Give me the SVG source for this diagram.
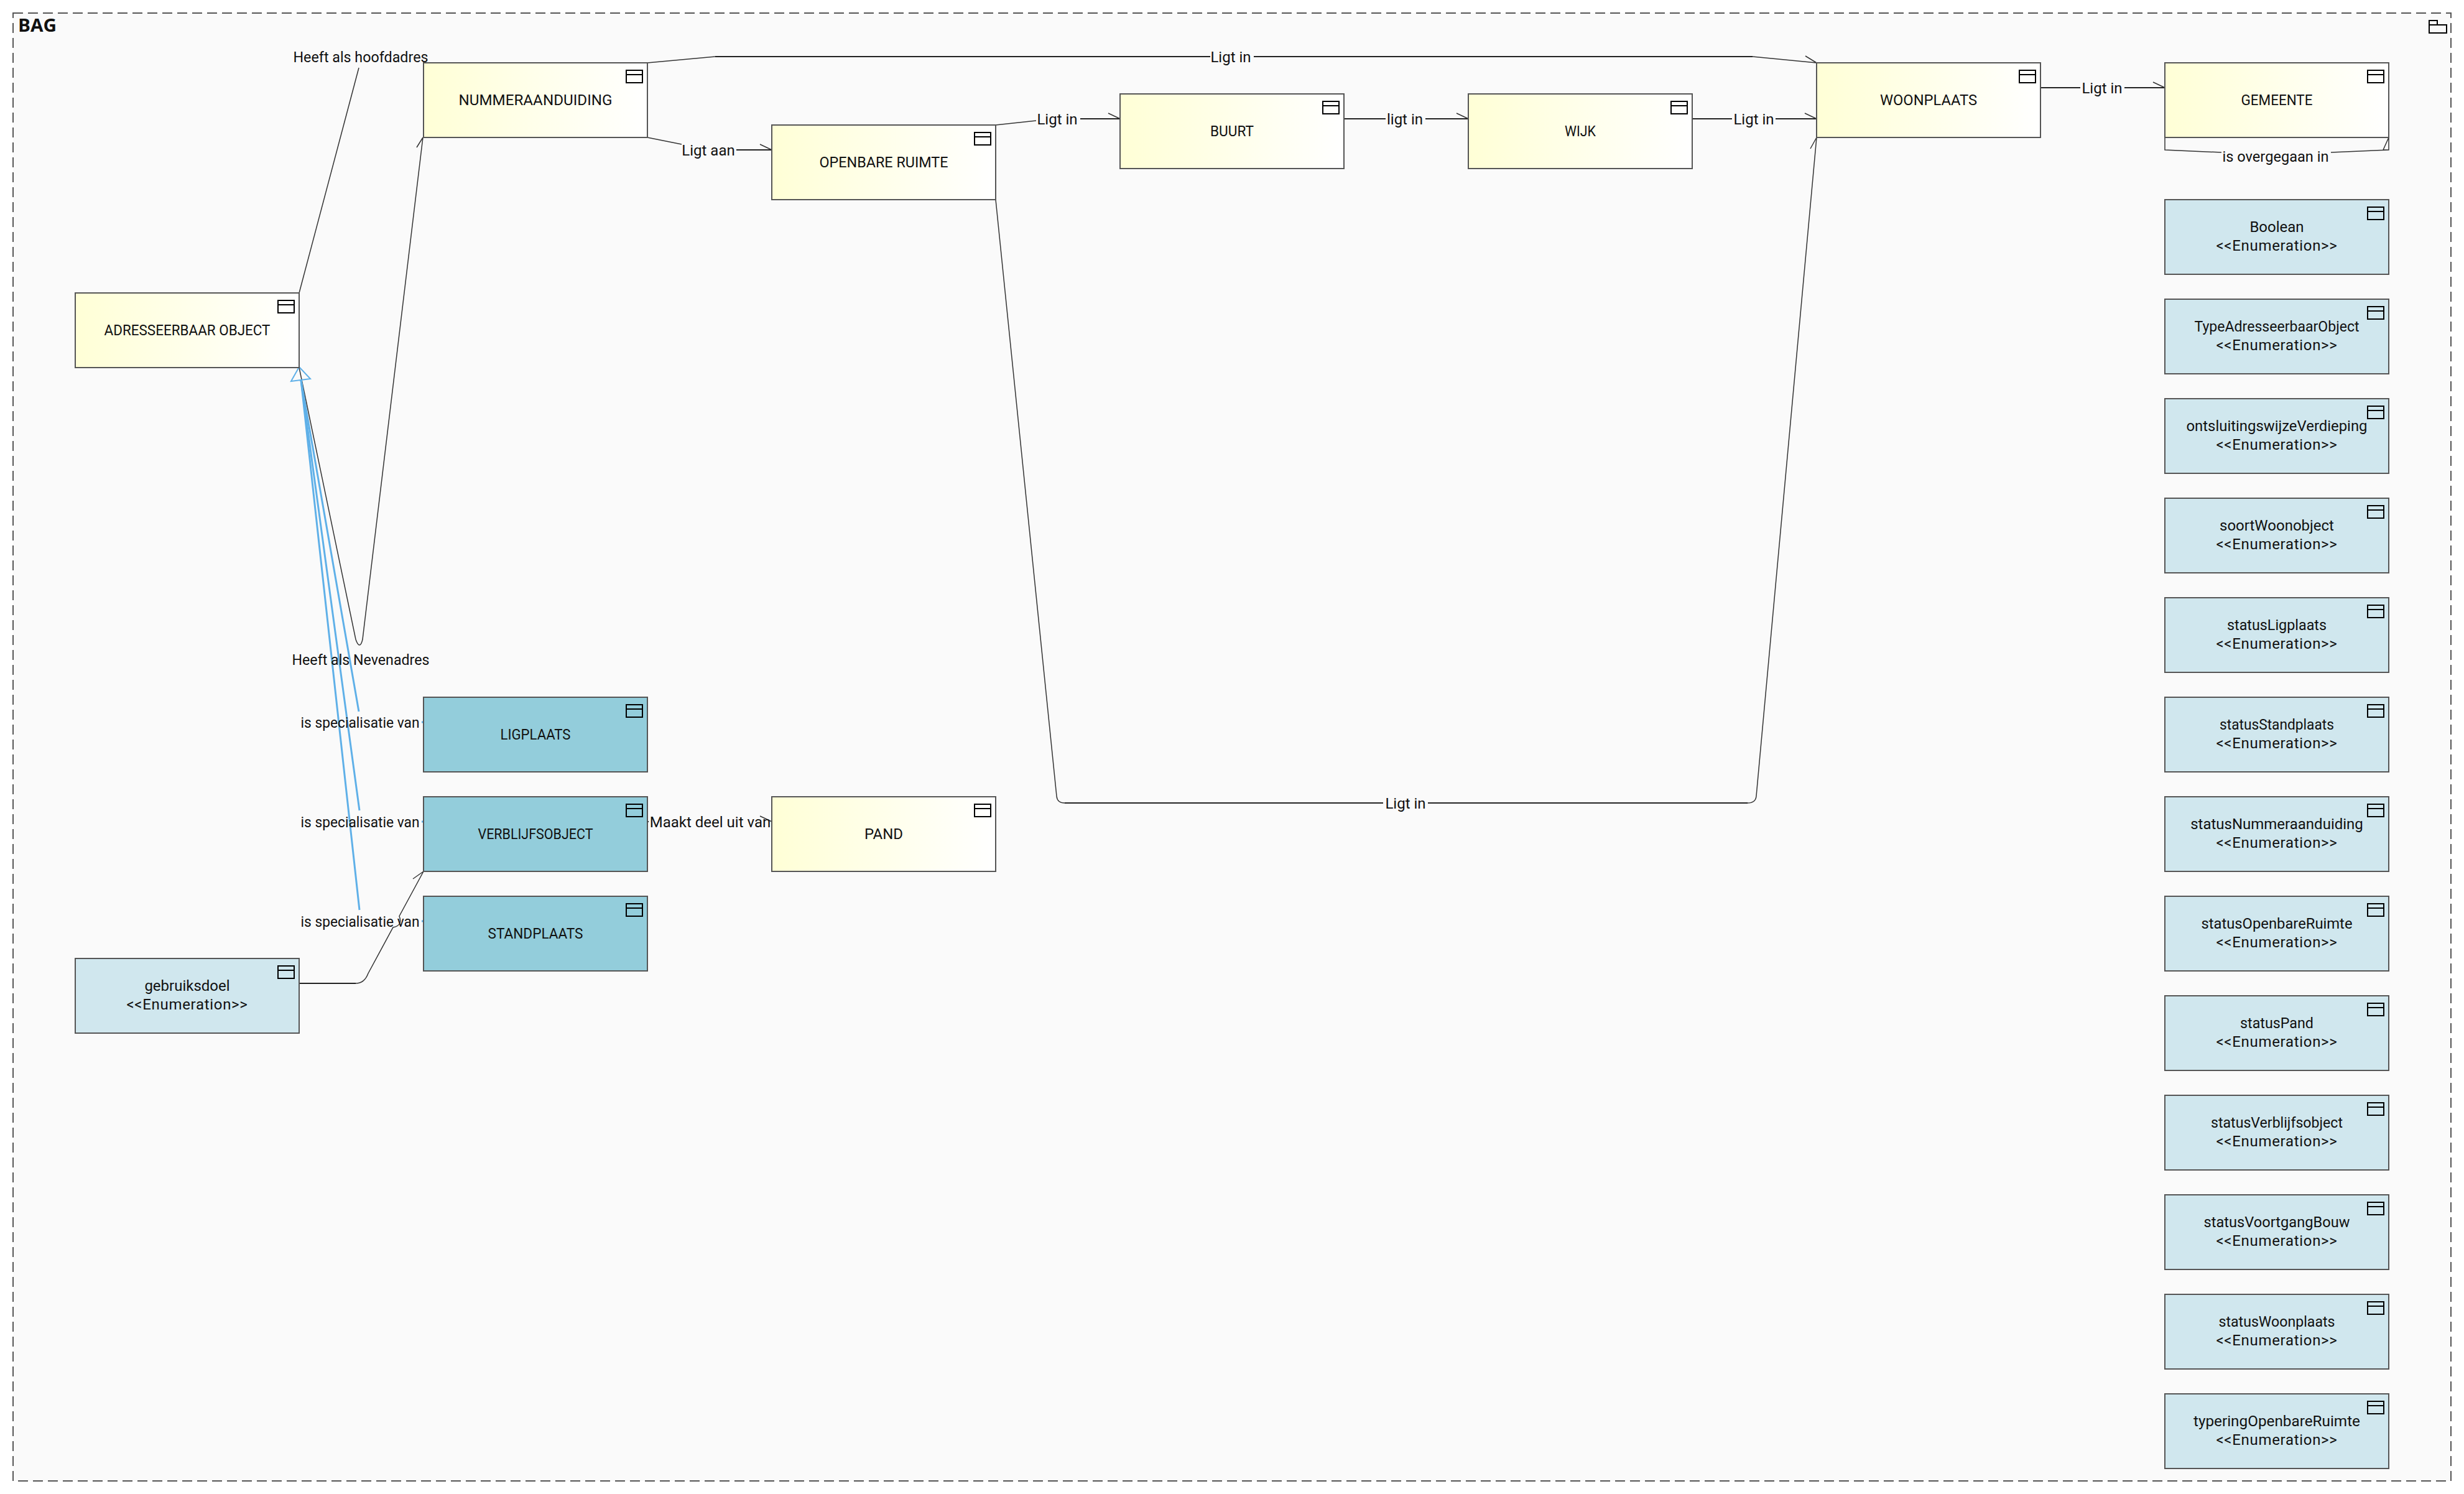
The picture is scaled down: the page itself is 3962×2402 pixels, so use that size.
<svg xmlns="http://www.w3.org/2000/svg" width="3962" height="2402" viewBox="0 0 3962 2402">
<style>
text{font-family:Roboto,"Noto Sans","Liberation Sans",sans-serif;font-size:24px;fill:#111;text-anchor:middle}
#title{font-weight:700;font-size:28px;text-anchor:start;font-family:"Open Sans",Roboto,sans-serif}
.e{letter-spacing:.7px}
.frame{fill:#fafafa;stroke:#555;stroke-width:2;stroke-dasharray:16 8}
.box{stroke:#555;stroke-width:2}
.entity{fill:url(#paleYellow)}
.sub{fill:#93cddb}
.enum{fill:#d0e7ee}
.glyph{fill:none;stroke:#000;stroke-width:2}
#connectors path{fill:none}
.h{stroke:#222;stroke-width:2}
.s{stroke:#333;stroke-width:1.5}
.g{stroke:#5fb0e8;stroke-width:3}
.tip{fill:#fff;stroke:#5fb0e8;stroke-width:2}
</style>
<defs>
<linearGradient id="paleYellow"><stop offset="0" stop-color="#ffffd6"/><stop offset="1" stop-color="#fff"/></linearGradient>
<g id="classIcon"><rect class="glyph" x="-34" y="12" width="26" height="20"/><path class="glyph" d="M-34 19H-8"/></g>
</defs>
<rect width="3962" height="2402" fill="#fff"/>
<g id="package-BAG">
<rect class="frame" x="21" y="21" width="3920" height="2360"/>
<text id="title" x="29" y="51" textLength="62" lengthAdjust="spacingAndGlyphs">BAG</text>
<path class="glyph" d="M3906 53V33H3919V40H3934V53ZM3906 40H3919"/>
</g>
<g id="connectors">
<!-- address relations -->
<path class="s" d="M481 471L577 109"/>
<path class="s" d="M481 591L572 1028Q575 1037 578 1037Q581 1037 583 1028L680 221M670 237L680 221"/>
<!-- specialisations -->
<path class="g" d="M484 611L577 1144M678 1161H681"/>
<path class="g" d="M484 611L578 1303M678 1321H681"/>
<path class="g" d="M484 611L578 1463M678 1481H681"/>
<path class="tip" d="M481 590L468 613L499 609Z"/>
<!-- location chain -->
<path class="s" d="M1041 101L1150 91"/>
<path class="h" d="M1150 91H1946M2016 91H2818"/>
<path class="s" d="M2818 91L2921 101M2903 90L2921 101"/>
<path class="s" d="M1041 221L1096 232M1222 232L1241 241"/>
<path class="h" d="M1184 241H1241"/>
<path class="s" d="M1601 201L1666 194M1782 182L1801 191"/>
<path class="h" d="M1737 191H1801"/>
<path class="h" d="M2161 191H2228M2292 191H2361"/>
<path class="s" d="M2342 182L2361 191"/>
<path class="h" d="M2721 191H2785M2855 191H2921"/>
<path class="s" d="M2902 182L2921 191"/>
<path class="h" d="M3281 141H3345M3416 141H3481"/>
<path class="s" d="M3462 132L3481 141"/>
<path class="s" d="M1601 321L1699 1280Q1700 1291 1712 1291M2810 1291Q2823 1291 2824 1280L2921 221M2911 239L2921 221"/>
<path class="h" d="M1712 1291H2224M2296 1291H2810"/>
<!-- municipality succession -->
<path class="s" d="M3481 221V241L3572 245M3748 245L3841 241V221L3832 241H3841"/>
<!-- remaining relations -->
<path class="h" d="M1041 1321H1043"/>
<path class="s" d="M1222 1312L1241 1321"/>
<path class="h" d="M481 1581H572"/>
<path class="s" d="M572 1581Q586 1581 592 1565L632 1491Q648 1488 642 1473L681 1401M664 1413L681 1401"/>
</g>
<g id="connector-labels" lengthAdjust="spacingAndGlyphs">
<text x="580" y="100" textLength="217" lengthAdjust="spacingAndGlyphs">Heeft als hoofdadres</text>
<text x="580" y="1069" textLength="221" lengthAdjust="spacingAndGlyphs">Heeft als Nevenadres</text>
<text x="579" y="1170" textLength="191" lengthAdjust="spacingAndGlyphs">is specialisatie van</text>
<text x="579" y="1330" textLength="191" lengthAdjust="spacingAndGlyphs">is specialisatie van</text>
<text x="579" y="1490" textLength="191" lengthAdjust="spacingAndGlyphs">is specialisatie van</text>
<text x="1142" y="1330">Maakt deel uit van</text>
<text x="1139" y="250">Ligt aan</text>
<text x="1979" y="100">Ligt in</text>
<text x="1700" y="200">Ligt in</text>
<text x="2259" y="200">ligt in</text>
<text x="2820" y="200">Ligt in</text>
<text x="3380" y="150">Ligt in</text>
<text x="2260" y="1300">Ligt in</text>
<text x="3659" y="260" textLength="171" lengthAdjust="spacingAndGlyphs">is overgegaan in</text>
</g>
<g id="node-adresseerbaar-object"><rect class="box entity" x="121" y="471" width="360" height="120"/><use href="#classIcon" x="481" y="471"/><text x="301" y="539" textLength="267" lengthAdjust="spacingAndGlyphs">ADRESSEERBAAR OBJECT</text></g>
<g id="node-nummeraanduiding"><rect class="box entity" x="681" y="101" width="360" height="120"/><use href="#classIcon" x="1041" y="101"/><text x="861" y="169" textLength="247" lengthAdjust="spacingAndGlyphs">NUMMERAANDUIDING</text></g>
<g id="node-openbare-ruimte"><rect class="box entity" x="1241" y="201" width="360" height="120"/><use href="#classIcon" x="1601" y="201"/><text x="1421" y="269" textLength="207" lengthAdjust="spacingAndGlyphs">OPENBARE RUIMTE</text></g>
<g id="node-buurt"><rect class="box entity" x="1801" y="151" width="360" height="120"/><use href="#classIcon" x="2161" y="151"/><text x="1981" y="219" textLength="70" lengthAdjust="spacingAndGlyphs">BUURT</text></g>
<g id="node-wijk"><rect class="box entity" x="2361" y="151" width="360" height="120"/><use href="#classIcon" x="2721" y="151"/><text x="2541" y="219" textLength="50" lengthAdjust="spacingAndGlyphs">WIJK</text></g>
<g id="node-woonplaats"><rect class="box entity" x="2921" y="101" width="360" height="120"/><use href="#classIcon" x="3281" y="101"/><text x="3101" y="169" textLength="156" lengthAdjust="spacingAndGlyphs">WOONPLAATS</text></g>
<g id="node-gemeente"><rect class="box entity" x="3481" y="101" width="360" height="120"/><use href="#classIcon" x="3841" y="101"/><text x="3661" y="169" textLength="115" lengthAdjust="spacingAndGlyphs">GEMEENTE</text></g>
<g id="node-pand"><rect class="box entity" x="1241" y="1281" width="360" height="120"/><use href="#classIcon" x="1601" y="1281"/><text x="1421" y="1349">PAND</text></g>
<g id="node-ligplaats"><rect class="box sub" x="681" y="1121" width="360" height="120"/><use href="#classIcon" x="1041" y="1121"/><text x="861" y="1189" textLength="113" lengthAdjust="spacingAndGlyphs">LIGPLAATS</text></g>
<g id="node-verblijfsobject"><rect class="box sub" x="681" y="1281" width="360" height="120"/><use href="#classIcon" x="1041" y="1281"/><text x="861" y="1349" textLength="185" lengthAdjust="spacingAndGlyphs">VERBLIJFSOBJECT</text></g>
<g id="node-standplaats"><rect class="box sub" x="681" y="1441" width="360" height="120"/><use href="#classIcon" x="1041" y="1441"/><text x="861" y="1509" textLength="153" lengthAdjust="spacingAndGlyphs">STANDPLAATS</text></g>
<g id="node-gebruiksdoel"><rect class="box enum" x="121" y="1541" width="360" height="120"/><use href="#classIcon" x="481" y="1541"/><text x="301" y="1593">gebruiksdoel</text><text class="e" x="301" y="1623">&lt;&lt;Enumeration&gt;&gt;</text></g>
<g id="node-boolean"><rect class="box enum" x="3481" y="321" width="360" height="120"/><use href="#classIcon" x="3841" y="321"/><text x="3661" y="373">Boolean</text><text class="e" x="3661" y="403">&lt;&lt;Enumeration&gt;&gt;</text></g>
<g id="node-typeadresseerbaarobject"><rect class="box enum" x="3481" y="481" width="360" height="120"/><use href="#classIcon" x="3841" y="481"/><text x="3661" y="533" textLength="265" lengthAdjust="spacingAndGlyphs">TypeAdresseerbaarObject</text><text class="e" x="3661" y="563">&lt;&lt;Enumeration&gt;&gt;</text></g>
<g id="node-ontsluitingswijzeverdieping"><rect class="box enum" x="3481" y="641" width="360" height="120"/><use href="#classIcon" x="3841" y="641"/><text x="3661" y="693" textLength="291" lengthAdjust="spacingAndGlyphs">ontsluitingswijzeVerdieping</text><text class="e" x="3661" y="723">&lt;&lt;Enumeration&gt;&gt;</text></g>
<g id="node-soortwoonobject"><rect class="box enum" x="3481" y="801" width="360" height="120"/><use href="#classIcon" x="3841" y="801"/><text x="3661" y="853">soortWoonobject</text><text class="e" x="3661" y="883">&lt;&lt;Enumeration&gt;&gt;</text></g>
<g id="node-statusligplaats"><rect class="box enum" x="3481" y="961" width="360" height="120"/><use href="#classIcon" x="3841" y="961"/><text x="3661" y="1013" textLength="160" lengthAdjust="spacingAndGlyphs">statusLigplaats</text><text class="e" x="3661" y="1043">&lt;&lt;Enumeration&gt;&gt;</text></g>
<g id="node-statusstandplaats"><rect class="box enum" x="3481" y="1121" width="360" height="120"/><use href="#classIcon" x="3841" y="1121"/><text x="3661" y="1173" textLength="184" lengthAdjust="spacingAndGlyphs">statusStandplaats</text><text class="e" x="3661" y="1203">&lt;&lt;Enumeration&gt;&gt;</text></g>
<g id="node-statusnummeraanduiding"><rect class="box enum" x="3481" y="1281" width="360" height="120"/><use href="#classIcon" x="3841" y="1281"/><text x="3661" y="1333">statusNummeraanduiding</text><text class="e" x="3661" y="1363">&lt;&lt;Enumeration&gt;&gt;</text></g>
<g id="node-statusopenbareruimte"><rect class="box enum" x="3481" y="1441" width="360" height="120"/><use href="#classIcon" x="3841" y="1441"/><text x="3661" y="1493" textLength="243" lengthAdjust="spacingAndGlyphs">statusOpenbareRuimte</text><text class="e" x="3661" y="1523">&lt;&lt;Enumeration&gt;&gt;</text></g>
<g id="node-statuspand"><rect class="box enum" x="3481" y="1601" width="360" height="120"/><use href="#classIcon" x="3841" y="1601"/><text x="3661" y="1653" textLength="118" lengthAdjust="spacingAndGlyphs">statusPand</text><text class="e" x="3661" y="1683">&lt;&lt;Enumeration&gt;&gt;</text></g>
<g id="node-statusverblijfsobject"><rect class="box enum" x="3481" y="1761" width="360" height="120"/><use href="#classIcon" x="3841" y="1761"/><text x="3661" y="1813" textLength="212" lengthAdjust="spacingAndGlyphs">statusVerblijfsobject</text><text class="e" x="3661" y="1843">&lt;&lt;Enumeration&gt;&gt;</text></g>
<g id="node-statusvoortgangbouw"><rect class="box enum" x="3481" y="1921" width="360" height="120"/><use href="#classIcon" x="3841" y="1921"/><text x="3661" y="1973" textLength="235" lengthAdjust="spacingAndGlyphs">statusVoortgangBouw</text><text class="e" x="3661" y="2003">&lt;&lt;Enumeration&gt;&gt;</text></g>
<g id="node-statuswoonplaats"><rect class="box enum" x="3481" y="2081" width="360" height="120"/><use href="#classIcon" x="3841" y="2081"/><text x="3661" y="2133" textLength="187" lengthAdjust="spacingAndGlyphs">statusWoonplaats</text><text class="e" x="3661" y="2163">&lt;&lt;Enumeration&gt;&gt;</text></g>
<g id="node-typeringopenbareruimte"><rect class="box enum" x="3481" y="2241" width="360" height="120"/><use href="#classIcon" x="3841" y="2241"/><text x="3661" y="2293" textLength="268" lengthAdjust="spacingAndGlyphs">typeringOpenbareRuimte</text><text class="e" x="3661" y="2323">&lt;&lt;Enumeration&gt;&gt;</text></g>
</svg>
